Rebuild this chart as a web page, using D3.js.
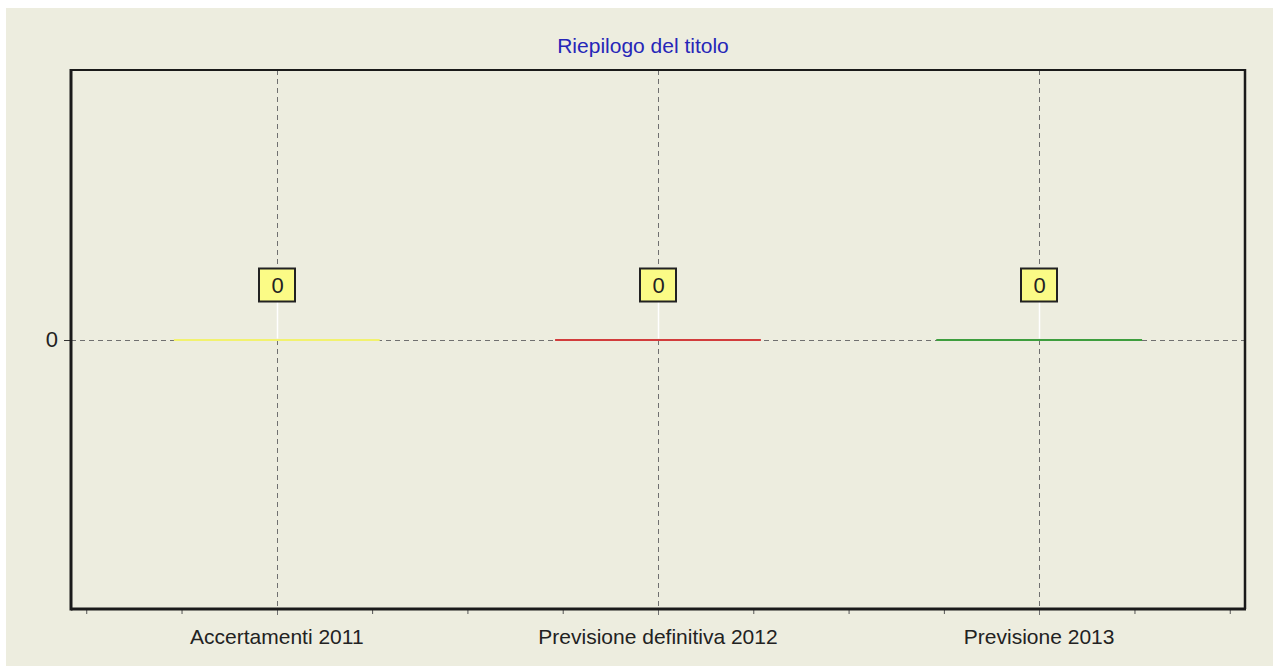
<!DOCTYPE html>
<html>
<head>
<meta charset="utf-8">
<script src="https://cdn.jsdelivr.net/npm/d3@7"></script>
<style>
  body { margin: 0; background: #fff; }
  svg { display: block; font-family: "Liberation Sans", Arial, sans-serif; }
</style>
</head>
<body>
<div id="chart"></div>
<script>
const width = 1280;
const height = 671;

// data
const title = 'Riepilogo del titolo';
const categories = ['Accertamenti 2011', 'Previsione definitiva 2012', 'Previsione 2013'];
const values = [0, 0, 0];
const barColors = ['#f2f26e', '#d23c3c', '#3e9e3e'];
const yTicks = [0];

const plot = {left: 71, right: 1245, top: 70, bottom: 609};

const x = d3.scaleLinear()
  .domain([0.46, 3.54])
  .range([plot.left, plot.right]);

const y = d3.scaleLinear()
  .domain([-1, 1])
  .range([plot.bottom, plot.top]);

const barHalf = 0.27;

const svg = d3.select('#chart').append('svg')
  .attr('width', width)
  .attr('height', height);

// panel background
svg.append('rect')
  .attr('x', 6).attr('y', 8)
  .attr('width', 1267).attr('height', 658)
  .attr('fill', '#ededdf');

svg.append('text')
  .attr('x', 643).attr('y', 53)
  .attr('text-anchor', 'middle')
  .attr('font-size', 21)
  .attr('fill', '#2626b8')
  .text(title);

// minor ticks on the bottom axis (every quarter, integers get the grid)
const minorTicks = d3.range(0.5, 3.51, 0.25).filter(t => Math.abs(t - Math.round(t)) > 0.01);
svg.append('g')
  .attr('transform', `translate(0,${plot.bottom})`)
  .call(d3.axisBottom(x).tickValues(minorTicks).tickSize(5).tickFormat(''))
  .call(g => g.select('.domain').remove())
  .call(g => g.selectAll('line').attr('stroke', '#555'));

// gridlines
const grid = svg.append('g')
  .attr('stroke', '#707070')
  .attr('stroke-width', 1)
  .attr('stroke-dasharray', '5,4');

grid.selectAll('line.v')
  .data(categories)
  .join('line')
  .attr('class', 'v')
  .attr('x1', (d, i) => Math.round(x(i + 1)) + 0.5)
  .attr('x2', (d, i) => Math.round(x(i + 1)) + 0.5)
  .attr('y1', plot.top)
  .attr('y2', plot.bottom + 6);

grid.selectAll('line.h')
  .data(yTicks)
  .join('line')
  .attr('class', 'h')
  .attr('x1', plot.left)
  .attr('x2', plot.right)
  .attr('y1', d => Math.round(y(d)) + 0.5)
  .attr('y2', d => Math.round(y(d)) + 0.5);

// y axis: single tick + label
const yAxis = svg.append('g');
yAxis.selectAll('line')
  .data(yTicks)
  .join('line')
  .attr('x1', plot.left - 7).attr('x2', plot.left)
  .attr('y1', d => Math.round(y(d)) + 0.5)
  .attr('y2', d => Math.round(y(d)) + 0.5)
  .attr('stroke', '#333');
yAxis.selectAll('text')
  .data(yTicks)
  .join('text')
  .attr('x', plot.left - 13)
  .attr('y', d => y(d))
  .attr('dy', '0.35em')
  .attr('text-anchor', 'end')
  .attr('font-size', 22)
  .attr('fill', '#222')
  .text(d => d);

// bars: body plus a 2px edge at the value, so zero-height bars show as flat lines
const bars = svg.append('g');
bars.selectAll('rect')
  .data(values)
  .join('rect')
  .attr('x', (d, i) => x(i + 1 - barHalf))
  .attr('width', (d, i) => x(i + 1 + barHalf) - x(i + 1 - barHalf))
  .attr('y', d => Math.min(y(d), y(0)))
  .attr('height', d => Math.abs(y(d) - y(0)))
  .attr('fill', (d, i) => barColors[i]);

bars.selectAll('line')
  .data(values)
  .join('line')
  .attr('x1', (d, i) => x(i + 1 - barHalf))
  .attr('x2', (d, i) => x(i + 1 + barHalf))
  .attr('y1', d => Math.round(y(d)))
  .attr('y2', d => Math.round(y(d)))
  .attr('stroke', (d, i) => barColors[i])
  .attr('stroke-width', 2);

// value labels with connector
const labels = svg.append('g');
const boxW = 36, boxH = 33, gap = 38;
labels.selectAll('line')
  .data(values)
  .join('line')
  .attr('x1', (d, i) => Math.round(x(i + 1)) + 0.5)
  .attr('x2', (d, i) => Math.round(x(i + 1)) + 0.5)
  .attr('y1', d => Math.min(y(d), y(0)) - gap)
  .attr('y2', d => Math.min(y(d), y(0)) - 1)
  .attr('stroke', '#ffffff')
  .attr('stroke-width', 1.5);

labels.selectAll('rect')
  .data(values)
  .join('rect')
  .attr('x', (d, i) => Math.round(x(i + 1)) - boxW / 2)
  .attr('y', d => Math.min(y(d), y(0)) - gap - boxH)
  .attr('width', boxW)
  .attr('height', boxH)
  .attr('fill', '#fbfb86')
  .attr('stroke', '#222')
  .attr('stroke-width', 2);

labels.selectAll('text')
  .data(values)
  .join('text')
  .attr('x', (d, i) => Math.round(x(i + 1)) + 0.5)
  .attr('y', d => Math.min(y(d), y(0)) - gap - boxH / 2)
  .attr('dy', '0.36em')
  .attr('text-anchor', 'middle')
  .attr('font-size', 22)
  .attr('fill', '#222')
  .text(d => d);

// plot frame: heavier left and bottom edges
const frame = svg.append('g').attr('stroke', '#1a1a1a').attr('fill', 'none');
frame.append('line').attr('x1', plot.left).attr('x2', plot.right).attr('y1', plot.top).attr('y2', plot.top).attr('stroke-width', 2);
frame.append('line').attr('x1', plot.right).attr('x2', plot.right).attr('y1', plot.top - 1).attr('y2', plot.bottom).attr('stroke-width', 2.5);
frame.append('line').attr('x1', plot.left).attr('x2', plot.left).attr('y1', plot.top - 1).attr('y2', plot.bottom + 1.5).attr('stroke-width', 3);
frame.append('line').attr('x1', plot.left).attr('x2', plot.right + 1).attr('y1', plot.bottom).attr('y2', plot.bottom).attr('stroke-width', 3);

// category labels
svg.append('g')
  .selectAll('text')
  .data(categories)
  .join('text')
  .attr('x', (d, i) => x(i + 1))
  .attr('y', 644)
  .attr('text-anchor', 'middle')
  .attr('font-size', 21)
  .attr('fill', '#222')
  .text(d => d);
</script>
</body>
</html>
